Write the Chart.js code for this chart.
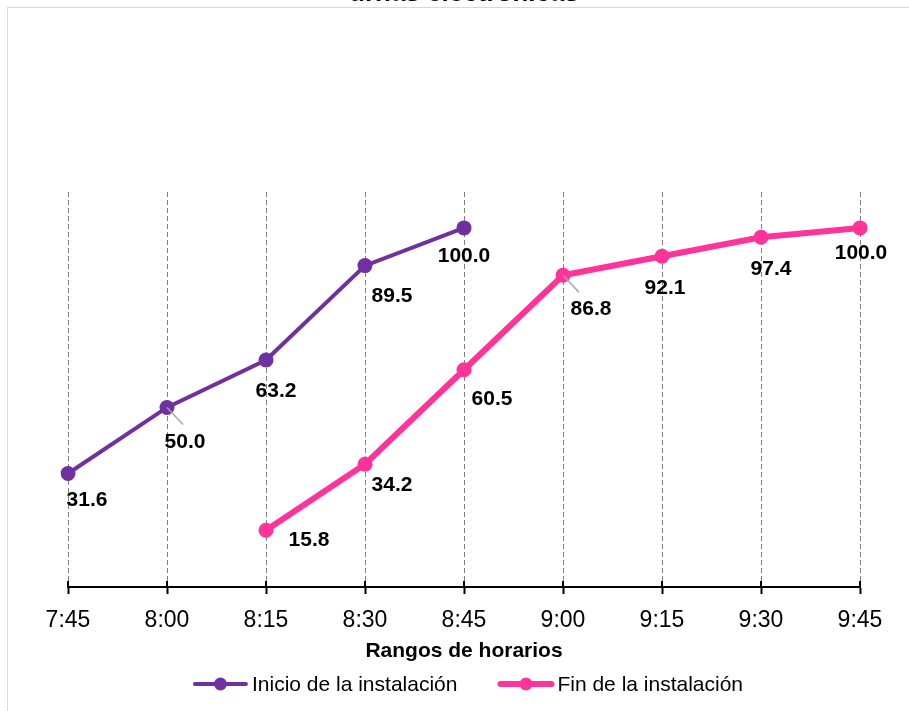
<!DOCTYPE html>
<html>
<head>
<meta charset="utf-8">
<script src="https://cdn.jsdelivr.net/npm/chart.js@4"></script>
<style>
  html, body { margin: 0; padding: 0; background: #fff; overflow: hidden; width: 909px; height: 711px; }
  #frame { position: absolute; left: 7px; top: 7px; width: 930px; height: 730px; border: 1px solid #d9d9d9; }
  #wrap { position: absolute; left: 0; top: -29px; width: 909px; height: 740px; }
</style>
</head>
<body>
<div id="frame"></div>
<div id="wrap"><canvas id="chart" width="909" height="740"></canvas></div>
<script>
// ---- data ----
const timeLabels = ['7:45', '8:00', '8:15', '8:30', '8:45', '9:00', '9:15', '9:30', '9:45'];
const inicioValues = [31.6, 50.0, 63.2, 89.5, 100.0, null, null, null, null];
const finValues = [null, null, 15.8, 34.2, 60.5, 86.8, 92.1, 97.4, 100.0];
const seriesNames = ['Inicio de la instalación', 'Fin de la instalación'];

// label placement relative to each point (px), and which labels get a leader line
const inicioLabelOffsets = [[19, 27], [18, 35], [10, 31], [27, 31], [0, 28], null, null, null, null];
const finLabelOffsets = [null, null, [43, 10], [27, 21], [28, 29], [28, 34], [3, 32], [10, 32], [1, 25]];
const inicioLeaders = [1];
const finLeaders = [5];

const FONT = '"Liberation Sans", Arial, Helvetica, sans-serif';
const PURPLE = '#7030a0';
const PINK = '#ff3399';

/**
 * valueLabels: bold numbers next to each point, with a short grey leader
 * line for the labels that Excel pushed away from their point.
 */
const valueLabels = {
  id: 'valueLabels',
  afterDatasetsDraw(ci) {
    const ctx = ci.ctx;
    ctx.save();
    ci.data.datasets.forEach((ds, di) => {
      const meta = ci.getDatasetMeta(di);
      meta.data.forEach((pt, i) => {
        const v = ds.data[i];
        const off = ds.labelOffsets[i];
        if (v == null || !off) return;
        const lx = pt.x + off[0];
        const ly = pt.y + off[1];
        if (ds.leaders.includes(i)) {
          ctx.beginPath();
          ctx.strokeStyle = '#a6a6a6';
          ctx.lineWidth = 1.5;
          ctx.moveTo(pt.x, pt.y);
          ctx.lineTo(pt.x + 16, pt.y + 17);
          ctx.stroke();
        }
        ctx.fillStyle = '#000';
        ctx.font = `bold 21px ${FONT}`;
        ctx.textAlign = 'center';
        ctx.textBaseline = 'middle';
        ctx.fillText(v.toFixed(1), lx, ly);
      });
    });
    ctx.restore();
  }
};

/**
 * extras: the short tick marks that cross the axis line, and a legend
 * drawn as line + marker samples under the axis title.
 */
const extras = {
  id: 'extras',
  afterDraw(ci) {
    const ctx = ci.ctx;
    const x = ci.scales.x;
    const ca = ci.chartArea;
    ctx.save();
    ctx.strokeStyle = '#000';
    ctx.lineWidth = 2;
    x.ticks.forEach((t, i) => {
      const px = Math.round(x.getPixelForTick(i));
      ctx.beginPath();
      ctx.moveTo(px, ca.bottom - 6);
      ctx.lineTo(px, ca.bottom);
      ctx.stroke();
    });

    // legend
    ctx.font = `21px ${FONT}`;
    ctx.textBaseline = 'middle';
    ctx.textAlign = 'left';
    const sample = 55, gapText = 4, gapItems = 41;
    const items = ci.data.datasets.map(ds => ({ ds, w: sample + gapText + ctx.measureText(ds.label).width }));
    const total = items.reduce((s, it) => s + it.w, 0) + gapItems * (items.length - 1);
    let lx = (ca.left + ca.right) / 2 + 4 - total / 2;
    const ly = ci.height - 27;
    items.forEach(it => {
      const ds = it.ds;
      ctx.strokeStyle = ds.borderColor;
      ctx.lineWidth = ds.borderWidth;
      ctx.lineCap = 'round';
      ctx.beginPath();
      ctx.moveTo(lx + 2, ly);
      ctx.lineTo(lx + sample - 2, ly);
      ctx.stroke();
      ctx.fillStyle = ds.borderColor;
      ctx.beginPath();
      ctx.arc(lx + sample / 2, ly, 6.5, 0, Math.PI * 2);
      ctx.fill();
      ctx.fillStyle = '#000';
      ctx.fillText(ds.label, lx + sample + gapText, ly + 1);
      lx += it.w + gapItems;
    });
    ctx.restore();
  }
};

const ctx = document.getElementById('chart').getContext('2d');
new Chart(ctx, {
  type: 'line',
  data: {
    labels: timeLabels,
    datasets: [
      {
        label: seriesNames[0],
        data: inicioValues,
        borderColor: PURPLE,
        backgroundColor: PURPLE,
        borderWidth: 4,
        pointRadius: 7.5,
        pointHoverRadius: 7.5,
        pointBorderWidth: 0,
        tension: 0,
        labelOffsets: inicioLabelOffsets,
        leaders: inicioLeaders
      },
      {
        label: seriesNames[1],
        data: finValues,
        borderColor: PINK,
        backgroundColor: PINK,
        borderWidth: 6,
        pointRadius: 7.5,
        pointHoverRadius: 7.5,
        pointBorderWidth: 0,
        tension: 0,
        labelOffsets: finLabelOffsets,
        leaders: finLeaders
      }
    ]
  },
  options: {
    responsive: false,
    animation: false,
    layout: { padding: { top: 0, bottom: 49, left: 68, right: 49 } },
    scales: {
      x: {
        offset: false,
        grid: {
          color: '#7f7f7f',
          lineWidth: 1,
          tickLength: 7,
          tickColor: '#000',
          tickWidth: 2,
          tickBorderDash: []
        },
        border: { color: '#000', width: 2, dash: [5, 3] },
        ticks: {
          color: '#000',
          padding: 15,
          maxRotation: 0,
          autoSkip: false,
          font: { family: FONT, size: 23, lineHeight: 1 }
        },
        title: {
          display: true,
          text: 'Rangos de horarios',
          color: '#000',
          padding: { top: -6, bottom: 0 },
          font: { family: FONT, size: 21, weight: 'bold', lineHeight: 1 }
        }
      },
      y: { display: false, min: 0, max: 110 }
    },
    plugins: {
      legend: { display: false },
      tooltip: { enabled: false },
      title: {
        display: true,
        text: 'urnas electrónicas',
        color: '#000',
        padding: { top: 7, bottom: 182.8 },
        font: { family: FONT, size: 26, weight: 'bold' }
      }
    }
  },
  plugins: [valueLabels, extras]
});
</script>
</body>
</html>
